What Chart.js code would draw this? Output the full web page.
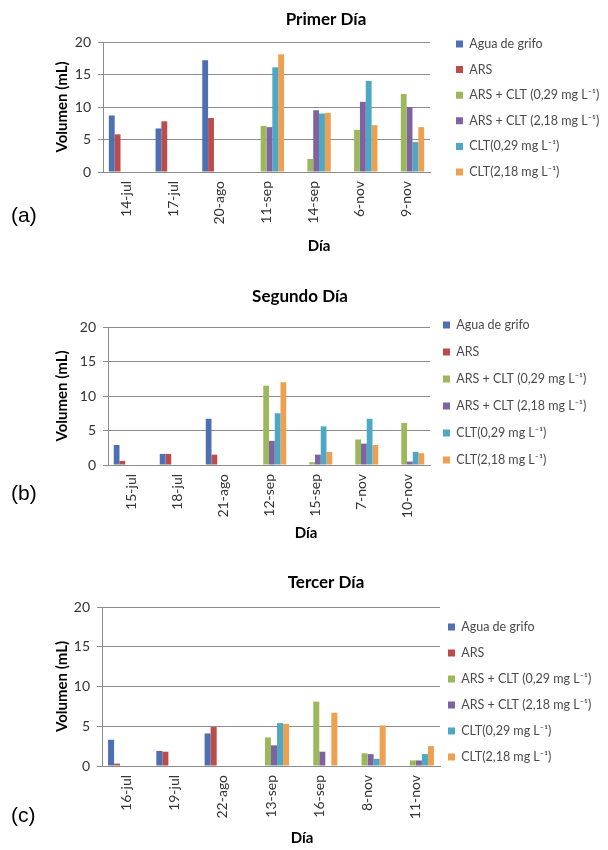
<!DOCTYPE html>
<html lang="es">
<head>
<meta charset="utf-8">
<title>Volumen por día</title>
<script src="https://cdn.jsdelivr.net/npm/chart.js@4.4.0/dist/chart.umd.min.js"></script>
<style>
  html, body { margin: 0; padding: 0; background: #fff; }
  body { width: 608px; height: 850px; position: relative; overflow: hidden; }
  canvas { position: absolute; left: 0; }
  .tag { position: absolute; left: 11px; font: 21px "Liberation Sans", Arial, sans-serif; color: #000; }
</style>
</head>
<body>
<canvas id="c1" width="608" height="258" style="top:0"></canvas>
<canvas id="c2" width="608" height="272" style="top:272px"></canvas>
<canvas id="c3" width="608" height="294" style="top:556px"></canvas>
<div class="tag" style="top:203px">(a)</div>
<div class="tag" style="top:481px">(b)</div>
<div class="tag" style="top:803px">(c)</div>

<script>
const series = ["Agua de grifo", "ARS", "ARS + CLT (0,29 mg L⁻¹)", "ARS + CLT (2,18 mg L⁻¹)", "CLT(0,29 mg L⁻¹)", "CLT(2,18 mg L⁻¹)"];
const colores = ["#4F6FB3", "#BC4B49", "#9BB95C", "#7F63A1", "#4DA8C4", "#EDA050"];
const yTicks = [0, 5, 10, 15, 20];

// Primer día
const dias1 = ["14-jul", "17-jul", "20-ago", "11-sep", "14-sep", "6-nov", "9-nov"];
const agua1 = [8.7, 6.7, 17.2, null, null, null, null];
const ars1 = [5.8, 7.8, 8.3, null, null, null, null];
const arsClt029_1 = [null, null, null, 7.1, 2.0, 6.5, 12.0];
const arsClt218_1 = [null, null, null, 6.9, 9.5, 10.8, 10.0];
const clt029_1 = [null, null, null, 16.1, 9.0, 14.0, 4.6];
const clt218_1 = [null, null, null, 18.1, 9.1, 7.2, 6.9];

// Segundo día
const dias2 = ["15-jul", "18-jul", "21-ago", "12-sep", "15-sep", "7-nov", "10-nov"];
const agua2 = [2.9, 1.6, 6.7, null, null, null, null];
const ars2 = [0.6, 1.6, 1.5, null, null, null, null];
const arsClt029_2 = [null, null, null, 11.5, 0.4, 3.7, 6.1];
const arsClt218_2 = [null, null, null, 3.5, 1.5, 3.1, 0.5];
const clt029_2 = [null, null, null, 7.5, 5.6, 6.7, 1.9];
const clt218_2 = [null, null, null, 12.0, 1.9, 2.9, 1.7];

// Tercer día
const dias3 = ["16-jul", "19-jul", "22-ago", "13-sep", "16-sep", "8-nov", "11-nov"];
const agua3 = [3.3, 1.9, 4.1, null, null, null, null];
const ars3 = [0.3, 1.8, 4.9, null, null, null, null];
const arsClt029_3 = [null, null, null, 3.6, 8.1, 1.6, 0.7];
const arsClt218_3 = [null, null, null, 2.6, 1.8, 1.5, 0.7];
const clt029_3 = [null, null, null, 5.4, null, 0.9, 1.5];
const clt218_3 = [null, null, null, 5.3, 6.7, 5.1, 2.5];

Chart.defaults.font.family = "Lato, 'Liberation Sans', sans-serif";
Chart.defaults.color = "#404040";

// moves title, "Día" and legend to where Excel put them
const placeText = {
    id: "placeText",
    afterLayout(chart, args, opts) {
        const centreOn = (box, x) => {
            const w = box.right - box.left;
            box.left = x - w / 2;
            box.right = box.left + w;
        };
        chart.boxes.forEach(box => {
            if (box === chart.titleBlock) centreOn(box, opts.titleX);
            else if (box.options && box.options.text === "Día") centreOn(box, opts.subX);
        });
        const lg = chart.legend;
        const lab = lg.options.labels;
        lg.left = opts.legendX - lab.padding;
        lg.top = opts.legendY - lab.padding - lab.font.size / 2;
        lg.right = chart.width;
        lg.bottom = chart.height;
    }
};

function panel(id, titulo, dias, valores, g) {
    new Chart(document.getElementById(id), {
        type: "bar",
        data: {
            labels: dias,
            datasets: series.map((name, i) => ({
                label: name,
                data: valores[i],
                backgroundColor: colores[i],
                borderWidth: 0,
                barPercentage: 1,
                categoryPercentage: 0.75
            }))
        },
        options: {
            responsive: false,
            animation: false,
            layout: { padding: { left: 0, top: 0, bottom: 0, right: 608 - g.plotRight - 100 } },
            plugins: {
                title: {
                    display: true, text: titulo, color: "#000",
                    font: { size: 17, weight: "bold" },
                    padding: { top: g.titleTop, bottom: g.titleBottom }
                },
                subtitle: {
                    display: true, text: "Día", position: "bottom", color: "#000",
                    font: { size: 15, weight: "bold" },
                    padding: { top: 0, bottom: g.subBottom }
                },
                legend: {
                    position: "right",
                    align: "start",
                    maxWidth: 100,
                    labels: {
                        boxWidth: 7, boxHeight: 7, padding: g.legendGap,
                        color: "#4a4a4a", font: { size: 12.5 }
                    }
                },
                tooltip: { enabled: false },
                placeText: { titleX: g.titleX, subX: g.subX, legendX: g.legendX, legendY: g.legendY }
            },
            scales: {
                x: {
                    grid: { display: false, drawTicks: false },
                    border: { color: "#8c8c8c" },
                    ticks: { autoSkip: false, minRotation: 90, maxRotation: 90, padding: 9, color: "#333", font: { size: 14 } },
                    afterFit: s => { s.height = g.xHeight; }
                },
                y: {
                    min: 0, max: 20,
                    afterBuildTicks: s => { s.ticks = yTicks.map(v => ({ value: v })); },
                    ticks: { padding: 7, color: "#333", font: { size: 14 } },
                    grid: { color: "#8c8c8c", tickLength: 5 },
                    border: { color: "#8c8c8c" },
                    title: {
                        display: true, text: "Volumen (mL)", color: "#000",
                        font: { size: 15, weight: "bold" },
                        padding: { top: 53, bottom: 0 }
                    },
                    afterFit: s => { s.width = g.plotLeft; }
                }
            }
        },
        plugins: [placeText]
    });
}

panel("c1", "Primer Día", dias1,
    [agua1, ars1, arsClt029_1, arsClt218_1, clt029_1, clt218_1],
    { plotLeft: 103, plotRight: 430, titleTop: 9.8, titleBottom: 11.8, subBottom: 3, xHeight: 65,
      titleX: 326, subX: 319, legendX: 456, legendY: 44, legendGap: 13.1 });

panel("c2", "Segundo Día", dias2,
    [agua2, ars2, arsClt029_2, arsClt218_2, clt029_2, clt218_2],
    { plotLeft: 108, plotRight: 430, titleTop: 14.8, titleBottom: 19.8, subBottom: 2, xHeight: 59,
      titleX: 300, subX: 306, legendX: 443, legendY: 53, legendGap: 14.5 });

panel("c3", "Tercer Día", dias3,
    [agua3, ars3, arsClt029_3, arsClt218_3, clt029_3, clt218_3],
    { plotLeft: 102, plotRight: 440, titleTop: 16.8, titleBottom: 13.8, subBottom: 3, xHeight: 63,
      titleX: 326, subX: 302, legendX: 448, legendY: 71, legendGap: 13.5 });
</script>
</body>
</html>
